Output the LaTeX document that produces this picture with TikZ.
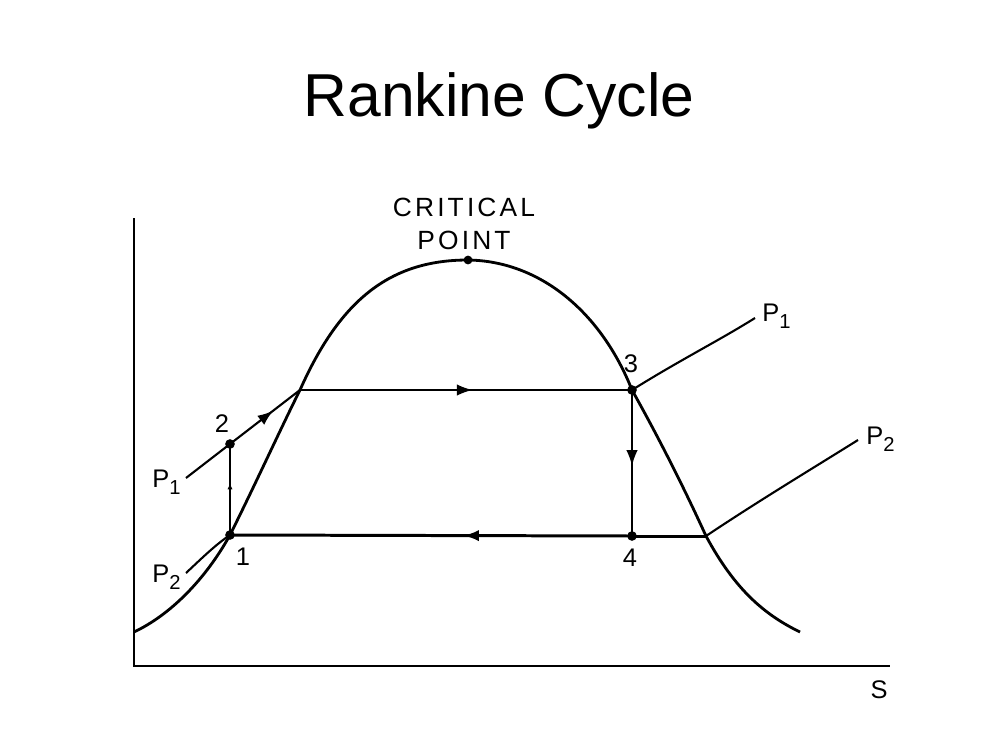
\documentclass[tikz,border=0pt]{standalone}
\usepackage{fontspec}
\setmainfont{Liberation Sans}
\usetikzlibrary{arrows.meta,decorations.markings}
\newcommand\psub[1]{P\raisebox{-0.5ex}{\fontsize{11.5}{11.5}\selectfont #1}}
\begin{document}
\begin{tikzpicture}[x=0.02cm,y=-0.02cm,
  dot/.style={circle,fill=black,inner sep=0pt,minimum size=5.5pt},
  lbl/.style={font=\fontsize{14.5}{16}\selectfont,inner sep=0pt},
  curve/.style={line width=1.6pt},
  thinline/.style={line width=1.0pt},
  thickline/.style={line width=1.7pt},
  isobar/.style={line width=1.2pt},
  midarrow/.style={postaction={decorate},decoration={markings,
     mark=at position #1 with {\arrow{Latex[length=9pt,width=6.5pt]}}}},
  tinyarrow/.style={postaction={decorate},decoration={markings,
     mark=at position #1 with {\arrow{Latex[length=3.5pt,width=3pt]}}}}
]
\useasboundingbox (0,0) rectangle (1000,750);

% title
\node[font=\fontsize{34.5}{38}\selectfont] (title) at (499,101) {Rankine Cycle};

% axes
\coordinate (origin) at (134,666);
\coordinate (ytop) at (134,218);
\coordinate (xend) at (890,666);
\draw[line width=1.5pt] (ytop) -- (origin) -- (xend);
\node[lbl] (S) at (879,690) {S};

% state points
\node[dot] (n1) at (230,535) {};
\node[dot] (n2) at (230,444) {};
\coordinate (sl) at (300,390);
\node[dot] (n3) at (632,390) {};
\node[dot] (n4) at (632,536) {};
\coordinate (sv) at (706,536);
\node[dot,minimum size=5pt] (cp) at (468,260) {};

% saturation dome
\draw[curve] (134,632) .. controls (170,615) and (205,580) .. (n1.center)
  .. controls (255,485) and (280,430) .. (sl)
  .. controls (340,300) and (390,260) .. (cp.center)
  .. controls (540,261) and (601,312) .. (n3.center)
  .. controls (660,440) and (685,490) .. (sv)
  .. controls (735,590) and (765,615) .. (800,632);

% cycle
\draw[thickline,tinyarrow=0.57] (n1.center) -- (n2.center);
\draw[isobar,midarrow=0.62] (n2.center) -- (sl);
\draw[thinline,midarrow=0.52] (sl) -- (n3.center);
\draw[thinline,midarrow=0.52] (n3.center) -- (n4.center);
\draw[thickline,midarrow=0.42] (n4.center) -- (n1.center);
\draw[thickline] (n4.center) -- (sv);

% isobars
\coordinate (p1l) at (186,478);
\coordinate (p2l) at (186,573);
\coordinate (p1r) at (755,318);
\coordinate (p2r) at (858,440);
\draw[isobar] (p1l) -- (n2.center);
\draw[isobar] (p2l) .. controls (200,560) and (215,545) .. (n1.center);
\draw[isobar] (n3.center) .. controls (680,360) and (720,340) .. (p1r);
\draw[isobar] (sv) .. controls (760,500) and (810,470) .. (p2r);

% labels
\node[lbl] (l2) at (222,424) {2};
\node[lbl] (l1) at (243,557) {1};
\node[lbl] (l3) at (631,364) {3};
\node[lbl] (l4) at (630,558) {4};
\node[lbl,anchor=east] (lp1l) at (181,482) {\psub{1}};
\node[lbl,anchor=east] (lp2l) at (181,577) {\psub{2}};
\node[lbl,anchor=west] (lp1r) at (762,316) {\psub{1}};
\node[lbl,anchor=west] (lp2r) at (866,439) {\psub{2}};
\node[lbl,align=center,font=\fontsize{15}{19}\selectfont\addfontfeatures{LetterSpace=12}] (crit) at (464,224) {CRITICAL\\POINT};
\end{tikzpicture}
\end{document}
